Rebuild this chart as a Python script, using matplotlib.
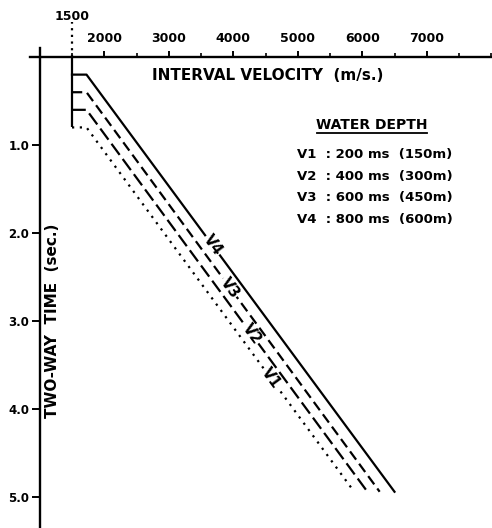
import numpy as np
import matplotlib
matplotlib.use("Agg")
import matplotlib.pyplot as plt

plt.rcParams["font.weight"] = "bold"

# ---- data ----
series_labels = ["V4", "V3", "V2", "V1"]
water_times = [0.2, 0.4, 0.6, 0.8]          # s (two-way time of water bottom)
water_velocity = 1500                        # m/s
start_velocity = [1725, 1725, 1725, 1725]    # m/s just below sea floor
end_velocity = [6500, 6270, 6080, 5875]      # m/s at end of curve
end_time = [4.94, 4.94, 4.94, 4.94]          # s
label_times = [2.14, 2.62, 3.15, 3.65]       # where the V-labels sit on each curve

x_major = [2000, 3000, 4000, 5000, 6000, 7000]
x_major_labels = ["2000", "3000", "4000", "5000", "6000", "7000"]
x_minor = [1500, 2500, 3500, 4500, 5500, 6500, 7500, 8000]
y_ticks = [1.0, 2.0, 3.0, 4.0, 5.0]
y_tick_labels = ["1.0", "2.0", "3.0", "4.0", "5.0"]

legend_title = "WATER DEPTH"
legend_lines = ["V1  : 200 ms  (150m)",
                "V2  : 400 ms  (300m)",
                "V3  : 600 ms  (450m)",
                "V4  : 800 ms  (600m)"]

# ---- figure ----
W, H = 492, 528
fig = plt.figure(figsize=(W / 100, H / 100), dpi=100)
ax = fig.add_axes([0, 0, 1, 1])
ax.set_xlim(383.7, 8011.6)
ax.set_ylim(5.352, -0.648)
ax.patch.set_alpha(0)

lw = 1.6
styles = [
    dict(linestyle="-"),
    dict(linestyle=(0, (4.6, 2.3))),
    dict(linestyle=(0, (6.2, 2.3))),
    dict(linestyle=(0, (1, 2.5))),
]

# water column (vertical at water velocity)
ax.plot([water_velocity, water_velocity], [0, max(water_times)], color="black", lw=lw,
        solid_capstyle="butt")

for lab, tw, v0, v1, t1, st, lt in zip(series_labels, water_times, start_velocity,
                                       end_velocity, end_time, styles, label_times):
    xs = [water_velocity, v0, v1]
    ys = [tw, tw, t1]
    ax.plot(xs, ys, color="black", lw=lw, **st)
    # label on the curve
    lx = np.interp(lt, [tw, t1], [v0, v1])
    p0 = ax.transData.transform((v0, tw))
    p1 = ax.transData.transform((v1, t1))
    ang = np.degrees(np.arctan2(p1[1] - p0[1], p1[0] - p0[0]))
    ax.text(lx, lt, lab, rotation=ang, ha="center", va="center", fontsize=10.5,
            rotation_mode="anchor",
            bbox=dict(facecolor="white", edgecolor="none", pad=0.5))

# 1500 marker above the axis
ax.plot([water_velocity, water_velocity], [0, -0.40], color="black", lw=lw,
        linestyle=(0, (1, 2)))
ax.text(water_velocity, -0.455, "1500", ha="center", va="center", fontsize=9)

# ---- spines / ticks ----
for s in ["right", "bottom"]:
    ax.spines[s].set_visible(False)
ax.spines["top"].set_position(("data", 0))
ax.spines["top"].set_bounds(849, 8011.6)
ax.spines["left"].set_position(("data", 1000))
ax.spines["left"].set_bounds(-0.10, 5.352)
for s in ["top", "left"]:
    ax.spines[s].set_linewidth(1.7)

ax.xaxis.set_ticks_position("top")
ax.set_xticks(x_major)
ax.set_xticklabels(x_major_labels)
ax.set_xticks(x_minor, minor=True)
ax.tick_params(axis="x", which="major", direction="out", length=4, width=1.4,
               pad=5, labelsize=9)
ax.tick_params(axis="x", which="minor", direction="out", length=3, width=1.2)

ax.set_yticks(y_ticks)
ax.set_yticklabels(y_tick_labels)
ax.tick_params(axis="y", which="major", direction="out", length=6, width=1.4,
               pad=1.5, labelsize=8.5)

# axis titles
ax.text(4539, 0.21, "INTERVAL VELOCITY  (m/s.)", ha="center", va="center", fontsize=11)
ax.text(1200, 3.0, "TWO-WAY  TIME  (sec.)", ha="center", va="center", rotation=90,
        fontsize=11)

# water depth legend
ax.text(6150, 0.77, legend_title, ha="center", va="center", fontsize=10)
ax.plot([5298, 7004], [0.86, 0.86], color="black", lw=1.3)
for i, line in enumerate(legend_lines):
    ax.text(4988, 1.11 + 0.245 * i, line, ha="left", va="center", fontsize=9.5)

fig.savefig("out.png", dpi=100)
